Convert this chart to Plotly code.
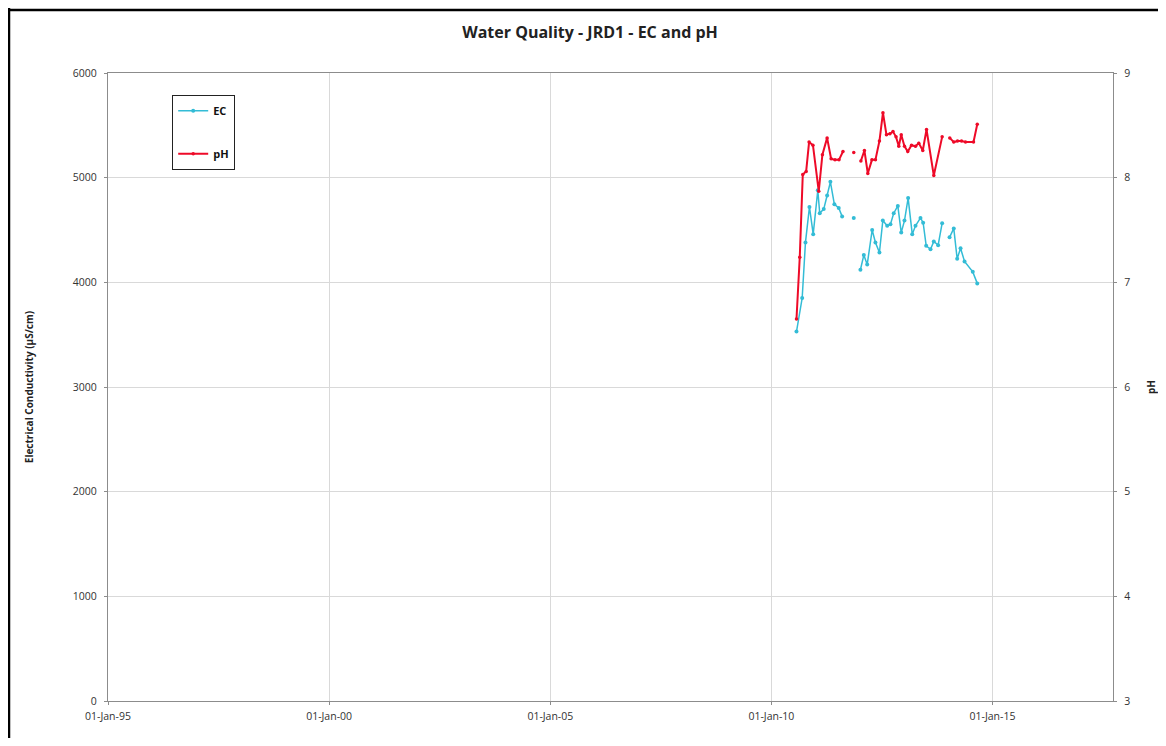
import plotly.graph_objects as go

# ---------------- data ----------------
ec_dates = [
    "2010-07-27", "2010-09-12", "2010-10-09", "2010-11-11", "2010-12-12",
    "2011-01-19", "2011-02-04", "2011-03-09", "2011-04-06", "2011-05-03",
    "2011-06-05", "2011-07-11", "2011-08-08",
    "2011-10-01",
    "2011-11-12",
    "2011-12-10",
    "2012-01-06", "2012-02-03", "2012-03-02", "2012-04-12", "2012-05-09",
    "2012-06-11", "2012-07-09", "2012-08-14", "2012-09-10", "2012-10-07",
    "2012-11-10", "2012-12-08", "2013-01-04", "2013-02-03", "2013-03-09",
    "2013-04-05", "2013-05-16", "2013-06-07", "2013-07-02", "2013-08-07",
    "2013-09-03", "2013-10-09", "2013-11-11",
    "2013-12-10",
    "2014-01-11", "2014-02-15", "2014-03-15", "2014-04-12", "2014-05-15",
    "2014-07-22", "2014-08-28",
]
ec_values = [
    3530, 3850, 4380, 4720, 4460,
    4880, 4660, 4700, 4830, 4960,
    4745, 4710, 4630,
    None,
    4615,
    None,
    4120, 4260, 4170, 4500, 4380,
    4285, 4590, 4540, 4555, 4660,
    4730, 4475, 4590, 4805, 4460,
    4540, 4615, 4570, 4350, 4315,
    4390, 4355, 4565,
    None,
    4430, 4515, 4225, 4325, 4200,
    4100, 3990,
]

ph_dates = [
    "2010-07-27", "2010-08-23", "2010-09-17", "2010-10-15", "2010-11-08",
    "2010-12-10", "2011-01-27", "2011-02-26", "2011-04-06", "2011-05-09",
    "2011-06-10", "2011-07-13", "2011-08-15",
    "2011-10-01",
    "2011-11-12",
    "2011-12-10",
    "2012-01-10", "2012-02-08", "2012-03-07", "2012-04-10", "2012-05-09",
    "2012-06-11", "2012-07-10", "2012-08-08", "2012-09-06", "2012-10-01",
    "2012-10-26", "2012-11-18", "2012-12-08", "2013-01-04", "2013-01-31",
    "2013-03-03", "2013-04-05", "2013-05-02", "2013-06-04", "2013-07-05",
    "2013-09-03", "2013-11-11",
    "2013-12-10",
    "2014-01-13", "2014-02-15", "2014-03-18", "2014-04-20", "2014-05-23",
    "2014-07-28", "2014-08-28",
]
ph_values = [
    6.65, 7.24, 8.03, 8.06, 8.34,
    8.31, 7.87, 8.22, 8.38, 8.18,
    8.17, 8.17, 8.25,
    None,
    8.24,
    None,
    8.16, 8.26, 8.04, 8.17, 8.17,
    8.35, 8.62, 8.41, 8.42, 8.44,
    8.39, 8.30, 8.41, 8.30, 8.25,
    8.31, 8.30, 8.33, 8.26, 8.46,
    8.02, 8.39,
    None,
    8.38, 8.34, 8.35, 8.35, 8.34,
    8.34, 8.51,
]

x_tick_vals = ["1995-01-01", "2000-01-01", "2005-01-01", "2010-01-01", "2015-01-01"]
x_tick_text = ["01-Jan-95", "01-Jan-00", "01-Jan-05", "01-Jan-10", "01-Jan-15"]
x_range = ["1995-01-01", "2017-09-22"]
ec_range = [0, 6000]
ph_range = [3, 9]

# ---------------- styling ----------------
EC_COLOR = "#33bcd6"
PH_COLOR = "#ee0a28"
FONT = "Open Sans"
TXT = "#333333"
GRID = "#d9d9d9"
AXIS = "#8c8c8c"

W, H = 1150, 730
L, R, T, B = 100, 45, 65, 37
PW, PH = W - L - R, H - T - B

fig = go.Figure()
fig.add_trace(go.Scatter(
    x=ec_dates, y=ec_values, name="<b>EC</b>", mode="lines+markers",
    line=dict(color=EC_COLOR, width=1.5),
    marker=dict(color=EC_COLOR, size=4),
    connectgaps=False, legendgroup="ec",
))
fig.add_trace(go.Scatter(
    x=ph_dates, y=ph_values, name="<b>pH</b>", mode="lines+markers", yaxis="y2",
    line=dict(color=PH_COLOR, width=2),
    marker=dict(color=PH_COLOR, size=3.5),
    connectgaps=False, legendgroup="ph",
))

fig.update_layout(
    width=W, height=H,
    margin=dict(l=L, r=R, t=T, b=B, autoexpand=False),
    paper_bgcolor="white", plot_bgcolor="white",
    font=dict(family=FONT, size=10, color=TXT),
    title=dict(
        text="<b>Water Quality - JRD1 - EC and pH</b>",
        x=(590 - 8) / W, xanchor="center", y=1 - 24 / H, yanchor="middle",
        font=dict(family=FONT, size=16, color="#222222"),
    ),
    xaxis=dict(
        range=x_range, tickvals=x_tick_vals, ticktext=x_tick_text,
        showgrid=True, gridcolor=GRID, gridwidth=1,
        showline=True, linecolor=AXIS, linewidth=1.3, mirror=True,
        ticks="outside", ticklen=3, tickcolor=AXIS, automargin=False,
        ticklabelstandoff=2,
        zeroline=False, tickfont=dict(size=10.5, color=TXT),
    ),
    yaxis=dict(
        range=ec_range, dtick=1000, tick0=0,
        showgrid=True, gridcolor=GRID, gridwidth=1,
        showline=True, linecolor=AXIS, linewidth=1.3, mirror=True,
        ticks="outside", ticklen=3, tickcolor=AXIS, zeroline=False,
        automargin=False, ticklabelstandoff=5,
        title=dict(text="<b>Electrical Conductivity (µS/cm)</b>",
                   font=dict(size=10, color="#222222"), standoff=37),
        tickfont=dict(size=10.5, color=TXT),
    ),
    yaxis2=dict(
        range=ph_range, dtick=1, tick0=3, overlaying="y", side="right",
        showgrid=False, showline=True, linecolor=AXIS, linewidth=1.3,
        ticks="outside", ticklen=3, tickcolor=AXIS, zeroline=False,
        automargin=False, ticklabelstandoff=5,
        title=dict(text="<b>pH</b>", font=dict(size=10, color="#222222"),
                   standoff=19),
        tickfont=dict(size=10.5, color=TXT),
    ),
    legend=dict(
        x=(172 - 108) / PW, y=(701 - 95) / PH, xanchor="left", yanchor="top",
        bordercolor="#222222", borderwidth=1.2, bgcolor="white",
        font=dict(size=11, color="#111111", family=FONT),
        tracegroupgap=24, itemwidth=30,
    ),
    showlegend=True,
)

# document frame lines (left and top border of the report page)
fig.add_shape(type="line", xref="paper", yref="paper",
              x0=(0 - L) / PW, x1=(W - L + 10) / PW,
              y0=1 + (T - 2) / PH, y1=1 + (T - 2) / PH,
              line=dict(color="black", width=2.5))
fig.add_shape(type="line", xref="paper", yref="paper",
              x0=(1 - L) / PW, x1=(1 - L) / PW,
              y0=-(B + 10) / PH, y1=1 + T / PH,
              line=dict(color="black", width=2.5))

fig.write_html("out.html")
